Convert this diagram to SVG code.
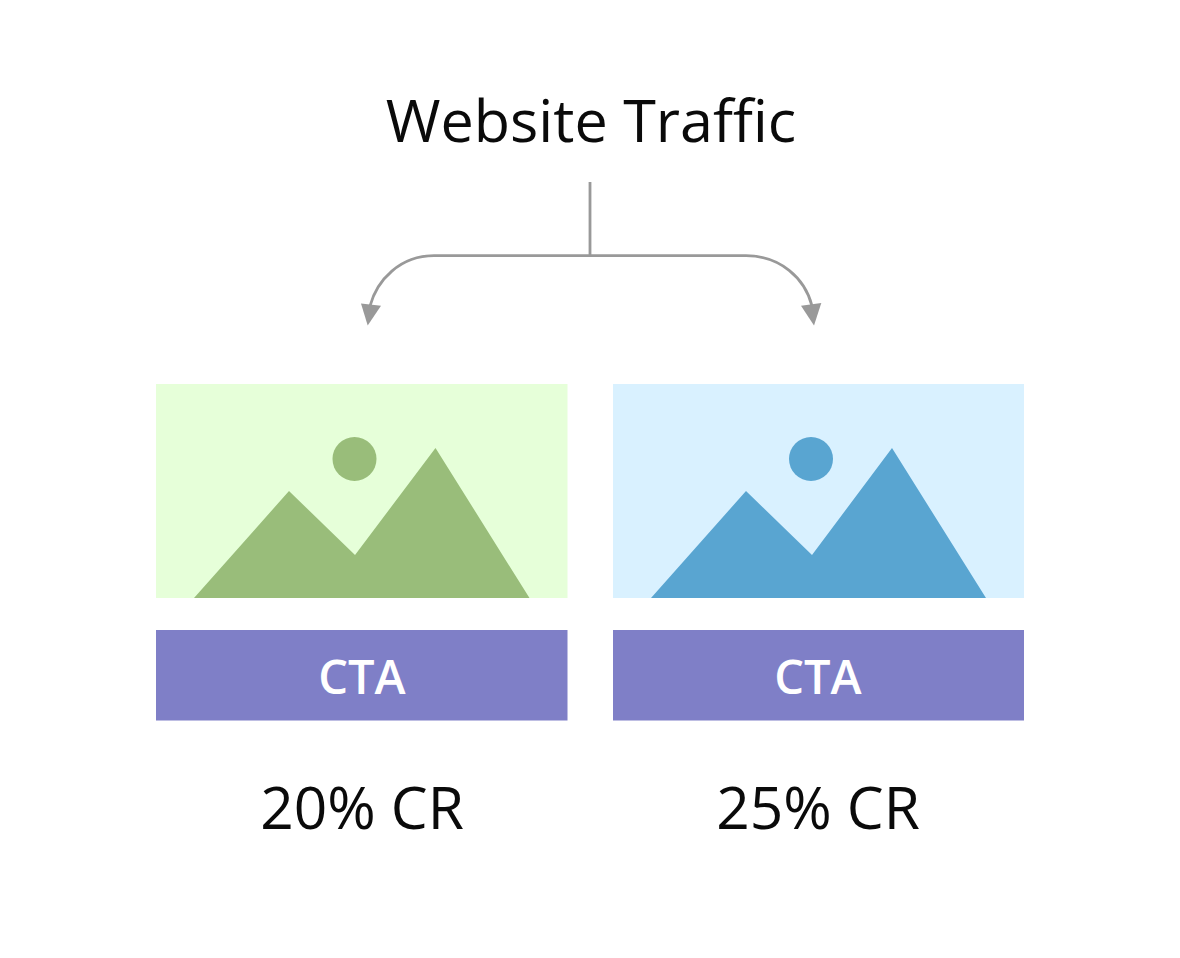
<svg xmlns="http://www.w3.org/2000/svg" width="1180" height="958" viewBox="0 0 1180 958">
<style>
text{font-family:"Open Sans","Noto Sans",sans-serif;text-anchor:middle}
.t{font-size:59.3px;fill:#0a0a0a}
.r{font-size:58.6px;fill:#0a0a0a}
.c{font-size:47px;font-weight:600;fill:#fff}
.cta{fill:#7f7fc7}
.l{fill:none;stroke:#999;stroke-width:2.8}
.h{fill:#999}
</style>
<rect width="1180" height="958" fill="#fff"/>
<g id="title"><text class="t" x="591" y="142">Website Traffic</text></g>
<g id="connectors">
<path class="l" d="M590 182V255"/>
<path class="l" d="M590 255.700H434C400 255.700 377 280 370 306"/>
<path class="l" d="M590 255.700H746C780 255.700 805 278 812 306"/>
<path class="h" d="M361 303.500L381 305.700L367.700 325.500Z"/>
<path class="h" d="M821.300 303L801 305.700L814 325.500Z"/>
</g>
<g id="variant-a">
<rect x="156" y="384" width="411.500" height="214" fill="#e6ffd9"/>
<circle cx="354.500" cy="459" r="22" fill="#99bd7a"/>
<path d="M194 598L289 491L355 555L435.500 448L529.500 598Z" fill="#99bd7a"/>
</g>
<g id="cta-a"><rect class="cta" x="156" y="630" width="411.500" height="90.500"/><text class="c" x="362" y="694">CTA</text></g>
<g id="cr-a"><text class="r" x="362" y="829">20% CR</text></g>
<g id="variant-b">
<rect x="613" y="384" width="411" height="214" fill="#d9f1ff"/>
<circle cx="811" cy="459" r="22" fill="#59a5d1"/>
<path d="M651 598L746 491L812 555L892 448L986 598Z" fill="#59a5d1"/>
</g>
<g id="cta-b"><rect class="cta" x="613" y="630" width="411" height="90.500"/><text class="c" x="818" y="694">CTA</text></g>
<g id="cr-b"><text class="r" x="818" y="829">25% CR</text></g>
</svg>
